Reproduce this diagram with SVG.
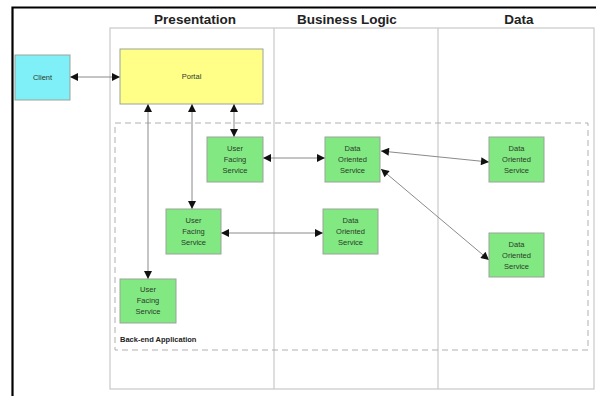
<svg xmlns="http://www.w3.org/2000/svg" width="596" height="396" viewBox="0 0 596 396">
<style>
.lane{fill:none;stroke:#c8c8c8;stroke-width:1.2}
.title{font-family:"Liberation Sans",Arial,sans-serif;font-weight:bold;font-size:13.5px;fill:#222;text-anchor:middle}
.box{stroke:#9aa39a;stroke-width:1}
.green{fill:#82e882}
.lbl{font-family:"Liberation Sans",Arial,sans-serif;font-size:7.5px;fill:#2a3a2a;text-anchor:middle}
.conn{stroke:#8a8a8a;stroke-width:1;fill:none;marker-start:url(#ah);marker-end:url(#ah)}
</style>
<defs>
<marker id="ah" viewBox="0 0 10 10" refX="10" refY="5" markerWidth="9" markerHeight="8" markerUnits="userSpaceOnUse" orient="auto-start-reverse">
<path d="M0,0 L10,5 L0,10 z" fill="#111"/>
</marker>
</defs>
<rect width="596" height="396" fill="#fff"/>
<path d="M12.5,396 V7.5 H596" fill="none" stroke="#000" stroke-width="2.2"/>
<g id="lanes">
<rect class="lane" x="110" y="28" width="484" height="361"/>
<line class="lane" x1="274" y1="28" x2="274" y2="389"/>
<line class="lane" x1="438" y1="28" x2="438" y2="389"/>
<text class="title" x="195" y="24">Presentation</text>
<text class="title" x="347" y="24">Business Logic</text>
<text class="title" x="519" y="24">Data</text>
</g>
<g id="backend">
<rect x="115" y="123" width="473" height="227" fill="none" stroke="#b0b0b0" stroke-width="1" stroke-dasharray="6,4"/>
<text x="120" y="342" font-family="'Liberation Sans',Arial,sans-serif" font-size="7.5" font-weight="bold" fill="#222">Back-end Application</text>
</g>
<g id="connectors">
<line class="conn" x1="70" y1="77" x2="120" y2="77"/>
<line class="conn" x1="234" y1="104" x2="234" y2="137"/>
<line class="conn" x1="192" y1="104" x2="192" y2="209"/>
<line class="conn" x1="148" y1="104" x2="148" y2="279"/>
<line class="conn" x1="263" y1="158" x2="325" y2="158"/>
<line class="conn" x1="221" y1="233" x2="323" y2="233"/>
<line class="conn" x1="381" y1="151" x2="489" y2="162"/>
<line class="conn" x1="381" y1="169" x2="489" y2="260"/>
</g>
<g id="client">
<rect class="box" x="15" y="55" width="55" height="45" fill="#80f0f8"/>
<text class="lbl" x="42.5" y="80">Client</text>
</g>
<g id="portal">
<rect class="box" x="120" y="49" width="143" height="55" fill="#ffff88"/>
<text class="lbl" x="191.5" y="79">Portal</text>
</g>
<g id="ufs1">
<rect class="box green" x="207" y="137" width="56" height="45"/>
<text class="lbl" x="235" y="151">User</text><text class="lbl" x="235" y="162">Facing</text><text class="lbl" x="235" y="173">Service</text>
</g>
<g id="dos1">
<rect class="box green" x="325" y="137" width="55" height="45"/>
<text class="lbl" x="352.5" y="151">Data</text><text class="lbl" x="352.5" y="162">Oriented</text><text class="lbl" x="352.5" y="173">Service</text>
</g>
<g id="ufs2">
<rect class="box green" x="166" y="209" width="55" height="45"/>
<text class="lbl" x="193.5" y="223">User</text><text class="lbl" x="193.5" y="234">Facing</text><text class="lbl" x="193.5" y="245">Service</text>
</g>
<g id="dos2">
<rect class="box green" x="323" y="209" width="55" height="45"/>
<text class="lbl" x="350.5" y="223">Data</text><text class="lbl" x="350.5" y="234">Oriented</text><text class="lbl" x="350.5" y="245">Service</text>
</g>
<g id="dos3">
<rect class="box green" x="489" y="137" width="55" height="45"/>
<text class="lbl" x="516.5" y="151">Data</text><text class="lbl" x="516.5" y="162">Oriented</text><text class="lbl" x="516.5" y="173">Service</text>
</g>
<g id="dos4">
<rect class="box green" x="489" y="233" width="55" height="44"/>
<text class="lbl" x="516.5" y="247">Data</text><text class="lbl" x="516.5" y="258">Oriented</text><text class="lbl" x="516.5" y="269">Service</text>
</g>
<g id="ufs3">
<rect class="box green" x="120" y="279" width="56" height="44"/>
<text class="lbl" x="148" y="292">User</text><text class="lbl" x="148" y="303">Facing</text><text class="lbl" x="148" y="314">Service</text>
</g>
</svg>
